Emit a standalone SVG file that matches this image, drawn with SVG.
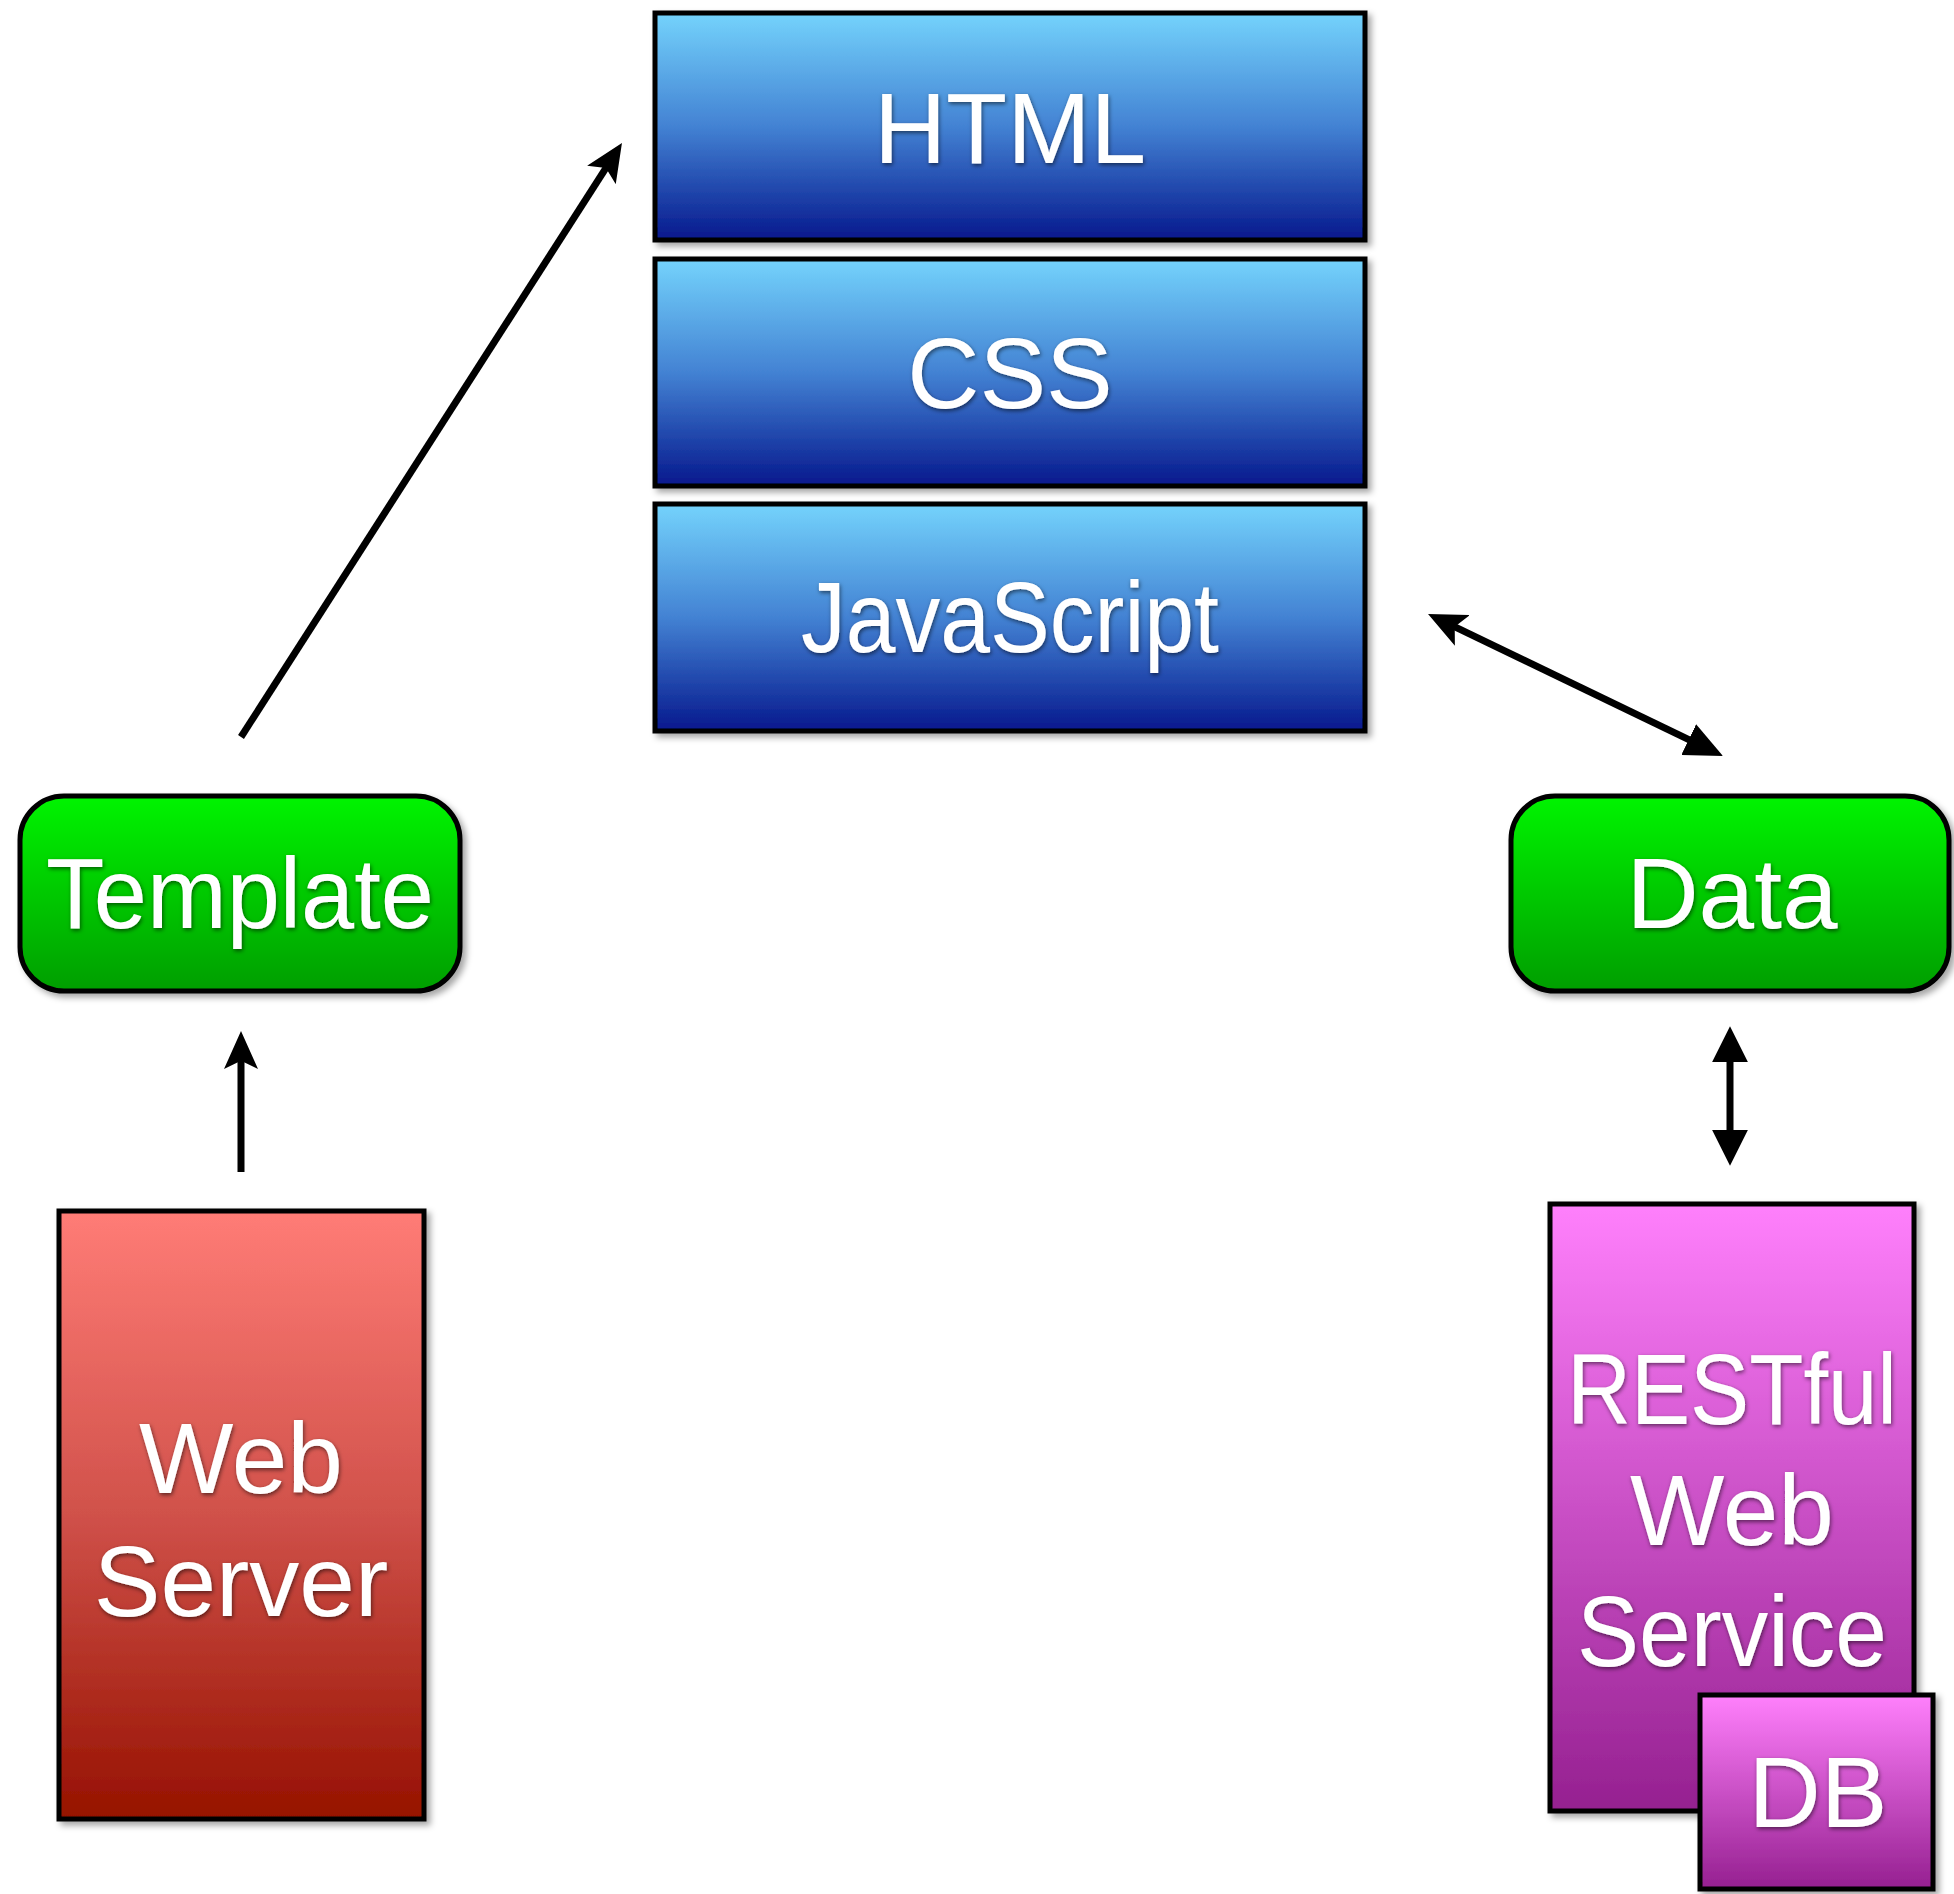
<svg xmlns="http://www.w3.org/2000/svg" width="1954" height="1894" viewBox="0 0 1954 1894">
<defs>
<linearGradient id="gBlue" x1="0" y1="0" x2="0" y2="1"><stop offset="0" stop-color="#74D3FC"/><stop offset="0.5" stop-color="#4382D3"/><stop offset="1" stop-color="#06188D"/></linearGradient>
<linearGradient id="gGreen" x1="0" y1="0" x2="0" y2="1"><stop offset="0" stop-color="#00F400"/><stop offset="1" stop-color="#009E00"/></linearGradient>
<linearGradient id="gRed" x1="0" y1="0" x2="0" y2="1"><stop offset="0" stop-color="#FF7C76"/><stop offset="0.5" stop-color="#D0514A"/><stop offset="1" stop-color="#961100"/></linearGradient>
<linearGradient id="gPink" x1="0" y1="0" x2="0" y2="1"><stop offset="0" stop-color="#FF80FC"/><stop offset="1" stop-color="#952090"/></linearGradient>
<filter id="sh" x="-10%" y="-10%" width="125%" height="125%"><feDropShadow dx="4" dy="4" stdDeviation="3" flood-color="#000" flood-opacity="0.35"/></filter>
<filter id="tsh" x="-10%" y="-20%" width="125%" height="150%"><feDropShadow dx="1" dy="2" stdDeviation="2" flood-color="#000" flood-opacity="0.55"/></filter>
<marker id="ah" viewBox="0 0 10 10" refX="7" refY="5" markerWidth="38" markerHeight="34" markerUnits="userSpaceOnUse" orient="auto-start-reverse" preserveAspectRatio="none"><path d="M0,0 L10,5 L0,10 L2.2,5 z" fill="#000"/></marker>
<marker id="ahf" viewBox="0 0 10 10" refX="7" refY="5" markerWidth="38" markerHeight="34" markerUnits="userSpaceOnUse" orient="auto-start-reverse" preserveAspectRatio="none"><path d="M0,0 L10,5 L0,10 z" fill="#000"/></marker>
<marker id="ah3" viewBox="0 0 10 10" refX="7" refY="5" markerWidth="36" markerHeight="36" markerUnits="userSpaceOnUse" orient="auto-start-reverse" preserveAspectRatio="none"><path d="M0,0 L10,5 L0,10 z" fill="#000"/></marker>
</defs>
<style>
.box{stroke:#000;stroke-width:5;filter:url(#sh)}
.lbl{font-family:"Liberation Sans","DejaVu Sans",sans-serif;font-size:100px;fill:#fff;text-anchor:middle;filter:url(#tsh)}
.con{stroke:#000;stroke-width:7;fill:none}
</style>
<rect width="1954" height="1894" fill="#fff"/>
<g id="html"><rect class="box" x="655" y="13" width="710" height="227" fill="url(#gBlue)"/><text class="lbl" x="1010" y="163">HTML</text></g>
<g id="css"><rect class="box" x="655" y="259" width="710" height="227" fill="url(#gBlue)"/><text class="lbl" x="1010" y="408">CSS</text></g>
<g id="javascript"><rect class="box" x="655" y="504" width="710" height="227" fill="url(#gBlue)"/><text class="lbl" x="1010" y="652" textLength="418" lengthAdjust="spacingAndGlyphs">JavaScript</text></g>
<g id="template"><rect class="box" x="20" y="796" width="440" height="195" rx="44" ry="44" fill="url(#gGreen)"/><text class="lbl" x="240" y="928" textLength="388" lengthAdjust="spacingAndGlyphs">Template</text></g>
<g id="data"><rect class="box" x="1511" y="796" width="438" height="195" rx="44" ry="44" fill="url(#gGreen)"/><text class="lbl" x="1732" y="928">Data</text></g>
<g id="webserver"><rect class="box" x="59" y="1211" width="365" height="608" fill="url(#gRed)"/><text class="lbl" x="241" y="1493">Web</text><text class="lbl" x="241" y="1616">Server</text></g>
<g id="restful"><rect class="box" x="1550" y="1204" width="364" height="607" fill="url(#gPink)"/><text class="lbl" x="1732" y="1424" textLength="330" lengthAdjust="spacingAndGlyphs">RESTful</text><text class="lbl" x="1732" y="1545">Web</text><text class="lbl" x="1732" y="1666" textLength="310" lengthAdjust="spacingAndGlyphs">Service</text></g>
<g id="db"><rect class="box" x="1700" y="1695" width="233" height="194" fill="url(#gPink)"/><text class="lbl" x="1818" y="1827">DB</text></g>
<g id="connectors">
<line class="con" stroke-width="6" x1="241" y1="737" x2="615.8" y2="152.6" marker-end="url(#ah)"/>
<line class="con" stroke-width="6" x1="1438.3" y1="618.9" x2="1712.7" y2="751.1" marker-start="url(#ah)" marker-end="url(#ahf)"/>
<line class="con" x1="241" y1="1172" x2="241" y2="1042.4" marker-end="url(#ah)"/>
<line class="con" x1="1730" y1="1037" x2="1730" y2="1155" marker-start="url(#ah3)" marker-end="url(#ah3)"/>
</g>
</svg>
